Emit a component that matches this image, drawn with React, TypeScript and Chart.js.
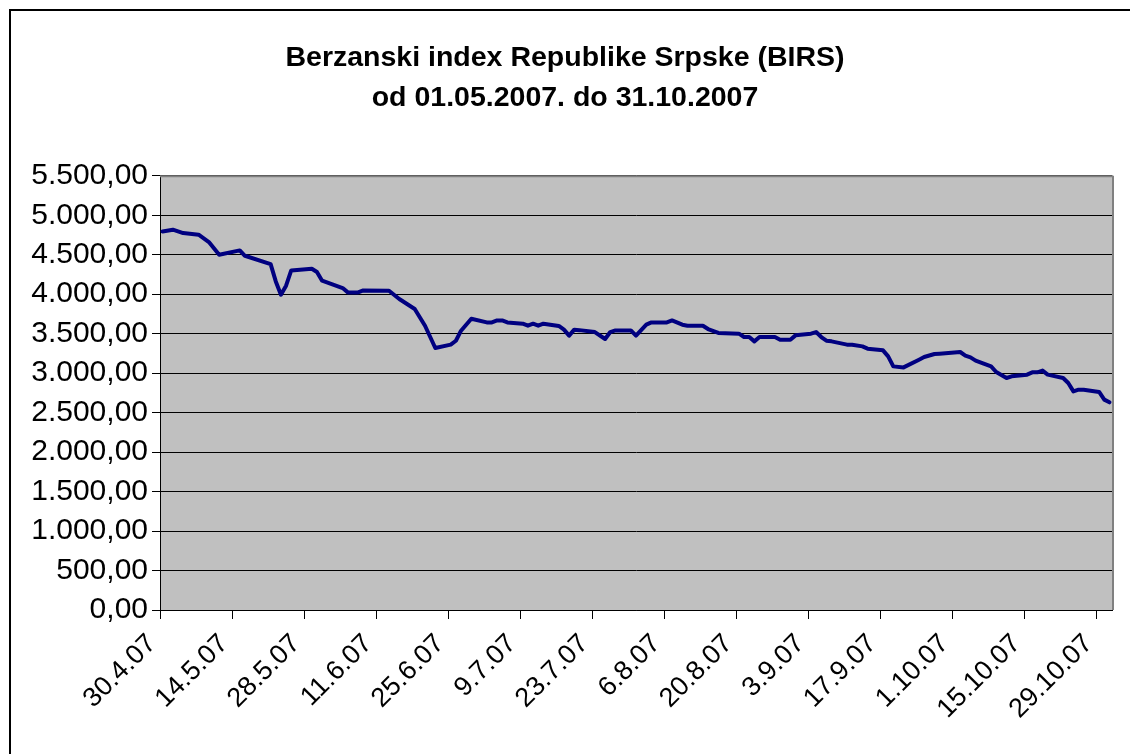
import React, { useEffect, useRef } from "react";
import { Chart, registerables } from "chart.js";

Chart.register(...registerables);

const TITLE_LINES = ["Berzanski index Republike Srpske (BIRS)", "od 01.05.2007. do 31.10.2007"];

const DATES = [
  "30.04.2007", "02.05.2007", "04.05.2007", "07.05.2007", "09.05.2007", "11.05.2007", "15.05.2007", "16.05.2007",
  "21.05.2007", "22.05.2007", "23.05.2007", "24.05.2007", "25.05.2007", "29.05.2007", "30.05.2007", "31.05.2007",
  "04.06.2007", "05.06.2007", "07.06.2007", "08.06.2007", "13.06.2007", "15.06.2007", "18.06.2007", "20.06.2007",
  "22.06.2007", "25.06.2007", "26.06.2007", "27.06.2007", "29.06.2007", "02.07.2007", "03.07.2007", "04.07.2007",
  "05.07.2007", "06.07.2007", "09.07.2007", "10.07.2007", "11.07.2007", "12.07.2007", "13.07.2007", "16.07.2007",
  "17.07.2007", "18.07.2007", "19.07.2007", "20.07.2007", "23.07.2007", "25.07.2007", "26.07.2007", "27.07.2007",
  "30.07.2007", "31.07.2007", "02.08.2007", "03.08.2007", "06.08.2007", "07.08.2007", "09.08.2007", "10.08.2007",
  "13.08.2007", "14.08.2007", "16.08.2007", "20.08.2007", "21.08.2007", "22.08.2007", "23.08.2007", "24.08.2007",
  "27.08.2007", "28.08.2007", "30.08.2007", "31.08.2007", "03.09.2007", "04.09.2007", "05.09.2007", "06.09.2007",
  "07.09.2007", "10.09.2007", "11.09.2007", "13.09.2007", "14.09.2007", "17.09.2007", "18.09.2007", "19.09.2007",
  "21.09.2007", "24.09.2007", "25.09.2007", "27.09.2007", "28.09.2007", "02.10.2007", "03.10.2007", "04.10.2007",
  "05.10.2007", "08.10.2007", "09.10.2007", "11.10.2007", "12.10.2007", "15.10.2007", "16.10.2007", "17.10.2007",
  "18.10.2007", "19.10.2007", "22.10.2007", "23.10.2007", "24.10.2007", "25.10.2007", "26.10.2007", "29.10.2007",
  "30.10.2007", "31.10.2007",
];

const BIRS_VALUES = [
  4795, 4817, 4775, 4754, 4661, 4500, 4555, 4487,
  4382, 4162, 3994, 4108, 4301, 4323, 4281, 4171,
  4078, 4023, 4023, 4048, 4044, 3939, 3813, 3601,
  3319, 3361, 3411, 3538, 3690, 3643, 3643, 3668,
  3668, 3643, 3627, 3601, 3627, 3601, 3627, 3598,
  3551, 3475, 3551, 3545, 3521, 3433, 3521, 3542,
  3542, 3475, 3614, 3643, 3643, 3668, 3614, 3601,
  3601, 3559, 3509, 3500, 3458, 3458, 3403, 3458,
  3458, 3424, 3424, 3479, 3500, 3521, 3458, 3411,
  3403, 3361, 3361, 3339, 3310, 3289, 3213, 3086,
  3073, 3171, 3205, 3243, 3247, 3268, 3222, 3200,
  3158, 3086, 3015, 2939, 2960, 2981, 3010, 3010,
  3032, 2981, 2939, 2875, 2769, 2791, 2791, 2762,
  2665, 2631,
];

const AXIS_START = "30.04.2007";
const AXIS_END = "01.11.2007";
const X_TICK_LABELS = [
  "30.4.07", "14.5.07", "28.5.07", "11.6.07", "25.6.07", "9.7.07", "23.7.07",
  "6.8.07", "20.8.07", "3.9.07", "17.9.07", "1.10.07", "15.10.07", "29.10.07",
];
const Y_MIN = 0;
const Y_MAX = 5500;
const Y_STEP = 500;

const FONT_FAMILY = "'Liberation Sans', Arial, Helvetica, sans-serif";

function parseDate(s: string): number {
  const [d, m, y] = s.split(".").map(Number);
  return Date.UTC(y, m - 1, d);
}
function parseShort(s: string): number {
  const [d, m, y] = s.split(".").map(Number);
  return Date.UTC(2000 + y, m - 1, d);
}
const DAY = 86400000;
const startMs = parseDate(AXIS_START);
const dayIndex = (ms: number) => Math.round((ms - startMs) / DAY);

function formatNum(v: number): string {
  const fixed = Math.abs(v).toFixed(2);
  const [intPart, dec] = fixed.split(".");
  const withDots = intPart.replace(/\B(?=(\d{3})+(?!\d))/g, ".");
  return (v < 0 ? "-" : "") + withDots + "," + dec;
}

const plotBgPlugin = {
  id: "plotBg",
  beforeDraw(chart: any) {
    const { ctx, chartArea } = chart;
    ctx.save();
    ctx.fillStyle = "#ffffff";
    ctx.fillRect(0, 0, chart.width, chart.height);
    ctx.fillStyle = "#C0C0C0";
    ctx.fillRect(chartArea.left, chartArea.top, chartArea.right - chartArea.left, chartArea.bottom - chartArea.top);
    ctx.restore();
  },
  afterDraw(chart: any) {
    const { ctx, chartArea } = chart;
    ctx.save();
    ctx.strokeStyle = "#808080";
    ctx.lineWidth = 2;
    ctx.beginPath();
    ctx.moveTo(chartArea.left, chartArea.top + 0.5);
    ctx.lineTo(chartArea.right + 1, chartArea.top + 0.5);
    ctx.moveTo(chartArea.right + 1, chartArea.top);
    ctx.lineTo(chartArea.right + 1, chartArea.bottom);
    ctx.stroke();
    ctx.restore();
  },
};

export default function App() {
  const canvasRef = useRef<HTMLCanvasElement | null>(null);

  useEffect(() => {
    if (!canvasRef.current) return;
    const points = DATES.map((d, i) => ({ x: dayIndex(parseDate(d)) + 0.5, y: BIRS_VALUES[i] }));
    const tickDays = X_TICK_LABELS.map((l) => dayIndex(parseShort(l)));
    const xMax = dayIndex(parseDate(AXIS_END));

    const chart = new Chart(canvasRef.current, {
      type: "line",
      data: {
        datasets: [
          {
            data: points,
            borderColor: "#000080",
            borderWidth: 4,
            pointRadius: 0,
            tension: 0,
            fill: false,
            borderJoinStyle: "round",
            borderCapStyle: "round",
          },
        ],
      },
      options: {
        responsive: false,
        animation: false,
        layout: { padding: { left: 18, right: 18, top: 0, bottom: 0 } },
        plugins: {
          legend: { display: false },
          tooltip: { enabled: false },
          title: {
            display: true,
            text: TITLE_LINES,
            color: "#000",
            font: { family: FONT_FAMILY, size: 28.5, weight: "bold", lineHeight: 1.4 },
            padding: { top: 38, bottom: 58 },
          },
        },
        scales: {
          x: {
            type: "linear",
            min: 0,
            max: xMax,
            afterBuildTicks: (scale: any) => {
              scale.ticks = tickDays.map((v) => ({ value: v }));
            },
            afterFit: (scale: any) => {
              scale.height = 144;
            },
            ticks: {
              autoSkip: false,
              maxRotation: 45,
              minRotation: 45,
              color: "#000",
              padding: 9,
              labelOffset: -8,
              font: { family: FONT_FAMILY, size: 27 },
              callback: (_v: any, i: number) => X_TICK_LABELS[i],
            },
            grid: { drawOnChartArea: false, drawTicks: true, tickLength: 9, color: "#000" },
            border: { display: true, color: "#000", width: 1 },
          },
          y: {
            min: Y_MIN,
            max: Y_MAX,
            afterFit: (scale: any) => {
              scale.width = 142;
            },
            ticks: {
              stepSize: Y_STEP,
              color: "#000",
              padding: 4,
              font: { family: FONT_FAMILY, size: 30 },
              callback: (v: any) => formatNum(Number(v)),
            },
            grid: { color: "#000", lineWidth: 1, drawTicks: true, tickLength: 8 },
            border: { display: true, color: "#000", width: 1 },
          },
        },
      },
      plugins: [plotBgPlugin],
    } as any);

    return () => chart.destroy();
  }, []);

  return (
    <div style={{ position: "fixed", left: 0, top: 0, width: 1130, height: 754, overflow: "hidden", background: "#fff" }}>
      <canvas ref={canvasRef} width={1130} height={754} style={{ display: "block", width: 1130, height: 754 }} />
      <div
        style={{
          position: "absolute",
          left: 9,
          top: 9,
          width: 1300,
          height: 900,
          borderLeft: "2px solid #000",
          borderTop: "2px solid #000",
          pointerEvents: "none",
        }}
      />
    </div>
  );
}
